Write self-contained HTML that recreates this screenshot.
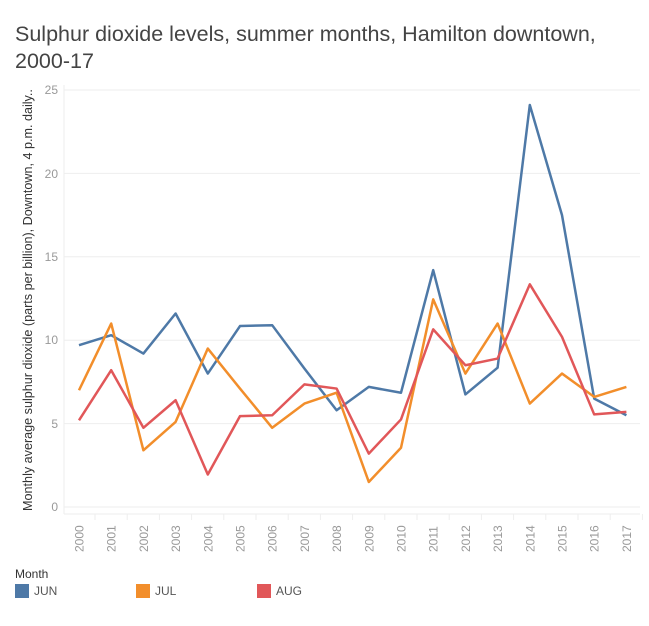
<!DOCTYPE html><html><head><style>body{margin:0;background:#fff;font-family:"Liberation Sans",sans-serif}</style></head><body>
<svg width="649" height="621" xmlns="http://www.w3.org/2000/svg" font-family="Liberation Sans, sans-serif">
<text x="15" y="41" font-size="21.5" fill="#444">Sulphur dioxide levels, summer months, Hamilton downtown,</text>
<text x="15" y="68" font-size="21.5" fill="#444">2000-17</text>
<g stroke="#eee" stroke-width="1">
<line x1="64" x2="640" y1="90" y2="90"/><line x1="64" x2="640" y1="173.4" y2="173.4"/><line x1="64" x2="640" y1="256.8" y2="256.8"/><line x1="64" x2="640" y1="340.2" y2="340.2"/><line x1="64" x2="640" y1="423.6" y2="423.6"/><line x1="64" x2="640" y1="507" y2="507"/>
<line x1="64" x2="64" y1="85" y2="514"/><line x1="64" x2="640" y1="514" y2="514"/>
</g>
<g font-size="12" fill="#999" text-anchor="end">
<text x="58" y="94">25</text><text x="58" y="178">20</text><text x="58" y="261">15</text><text x="58" y="344">10</text><text x="58" y="428">5</text><text x="58" y="511">0</text>
</g>
<text transform="translate(32,300) rotate(-90)" font-size="12.6" fill="#333" text-anchor="middle">Monthly average sulphur dioxide (parts per billion), Downtown, 4 p.m. daily..</text>
<g id="xl" font-size="12" fill="#999"></g>
<g fill="none" stroke-width="2.5" stroke-linejoin="round">
<polyline id="jun" stroke="#4e79a7"/><polyline id="jul" stroke="#f28e2b"/><polyline id="aug" stroke="#e15759"/>
</g>
<text x="15" y="578" font-size="12" fill="#333">Month</text>
<rect x="15" y="584" width="14" height="14" fill="#4e79a7"/><text x="34" y="595" font-size="12" fill="#555">JUN</text>
<rect x="136" y="584" width="14" height="14" fill="#f28e2b"/><text x="155" y="595" font-size="12" fill="#555">JUL</text>
<rect x="257" y="584" width="14" height="14" fill="#e15759"/><text x="276" y="595" font-size="12" fill="#555">AUG</text>
</svg>
<script>
var d={jun:[9.7,10.3,9.2,11.6,8.0,10.85,10.9,8.3,5.8,7.2,6.85,14.2,6.75,8.35,24.1,17.5,6.5,5.5],
jul:[7.0,11.0,3.4,5.1,9.5,7.1,4.75,6.2,6.85,1.5,3.55,12.45,8.0,11.0,6.2,8.0,6.6,7.2],
aug:[5.2,8.2,4.75,6.4,1.95,5.45,5.5,7.35,7.1,3.2,5.25,10.65,8.5,8.9,13.35,10.2,5.55,5.7]};
function X(i){return 79+32.2*i}function Y(v){return 507-16.68*v}
for(var k in d){document.getElementById(k).setAttribute('points',d[k].map(function(v,i){return X(i)+','+Y(v)}).join(' '))}
var g=document.getElementById('xl'),s='';
for(var i=0;i<18;i++){s+='<text transform="translate('+(X(i)+4.5)+',552) rotate(-90)">'+(2000+i)+'</text>';
s+='<line x1="'+(X(i)+16)+'" x2="'+(X(i)+16)+'" y1="514" y2="520" stroke="#eee"/>'}
g.innerHTML=s;
</script>
</body></html>
